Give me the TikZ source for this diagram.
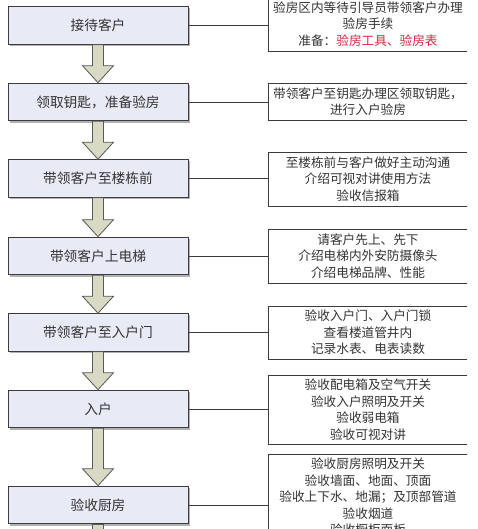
\documentclass[tikz,border=0pt]{standalone}
\usepackage{fontspec}
\setmainfont{Noto Sans CJK SC}
\usetikzlibrary{shadows,calc}

\definecolor{stepfill}{RGB}{232,234,246}
\definecolor{arrowfill}{RGB}{216,218,196}
\definecolor{edgegray}{RGB}{60,60,60}
\definecolor{notered}{RGB}{222,40,62}

\tikzset{
  stepbox/.style={draw=edgegray, fill=stepfill, minimum width=5.4cm, minimum height=1.13cm,
    inner sep=0pt, font=\fontsize{11.7}{14}\selectfont, text=black!80,
    drop shadow={shadow xshift=0.05cm, shadow yshift=-0.05cm, fill=black!30, opacity=1}},
  notebox/.style={draw=edgegray, fill=white, minimum width=6cm, inner sep=0pt, align=center,
    font=\fontsize{10.8}{14.1}\selectfont, text=black!80},
  flowarrow/.style={draw=black!65, fill=arrowfill, line width=0.7pt},
  link/.style={draw=edgegray, line width=0.8pt}
}

\begin{document}
\begin{tikzpicture}[x=0.03cm, y=-0.03cm, line width=0.8pt]
  \useasboundingbox (0,0) rectangle (478,529);
  \clip (0,0) rectangle (467,529);
  % steps
  \node[stepbox] (k1) at (98,25.5) {接待客户};
  \node[stepbox] (k2) at (98,102) {领取钥匙，准备验房};
  \node[stepbox] (k3) at (98,178.5) {带领客户至楼栋前};
  \node[stepbox] (k4) at (98,256) {带领客户上电梯};
  \node[stepbox] (k5) at (98,332.5) {带领客户至入户门};
  \node[stepbox] (k6) at (98,409) {入户};
  \node[stepbox] (k7) at (98,505) {验收厨房};
  % notes
  \node[notebox, minimum height=1.62cm] (r1) at (368,24)
    {验房区内等待引导员带领客户办理\\验房手续\\准备：\textcolor{notered}{验房工具、验房表}};
  \node[notebox, minimum height=1.11cm] (r2) at (368,101.5)
    {带领客户至钥匙办理区领取钥匙，\\进行入户验房};
  \node[notebox, minimum height=1.62cm] (r3) at (368,179)
    {至楼栋前与客户做好主动沟通\\介绍可视对讲使用方法\\验收信报箱};
  \node[notebox, minimum height=1.62cm] (r4) at (368,256)
    {请客户先上、先下\\介绍电梯内外安防摄像头\\介绍电梯品牌、性能};
  \node[notebox, minimum height=1.59cm] (r5) at (368,332.5)
    {验收入户门、入户门锁\\查看楼道管井内\\记录水表、电表读数};
  \node[notebox, minimum height=2.07cm] (r6) at (368,409.5)
    {验收配电箱及空气开关\\验收入户照明及开关\\验收弱电箱\\验收可视对讲};
  \node[notebox, minimum height=2.58cm] (r7) at (368,497)
    {验收厨房照明及开关\\验收墙面、地面、顶面\\验收上下水、地漏；及顶部管道\\验收烟道\\验收橱柜面板};
  % arrows between steps
  \foreach \a/\b in {k1/k2,k2/k3,k3/k4,k4/k5,k5/k6,k6/k7}
    \draw[flowarrow] ($(\a.south)+(-5.5,0)$) -- ($(\b.north)+(-5.5,-17)$)
      -- ($(\b.north)+(-15.5,-17)$) -- (\b.north) -- ($(\b.north)+(15.5,-17)$)
      -- ($(\b.north)+(5.5,-17)$) -- ($(\a.south)+(5.5,0)$) -- cycle;
  \draw[flowarrow] ($(k7.south)+(-5.5,0)$) -- ($(k7.south)+(-5.5,20)$)
    -- ($(k7.south)+(5.5,20)$) -- ($(k7.south)+(5.5,0)$) -- cycle;
  % links to notes
  \foreach \i in {1,...,7}
    \draw[link] (k\i.east) -- (k\i.east -| r\i.west);
\end{tikzpicture}
\end{document}
